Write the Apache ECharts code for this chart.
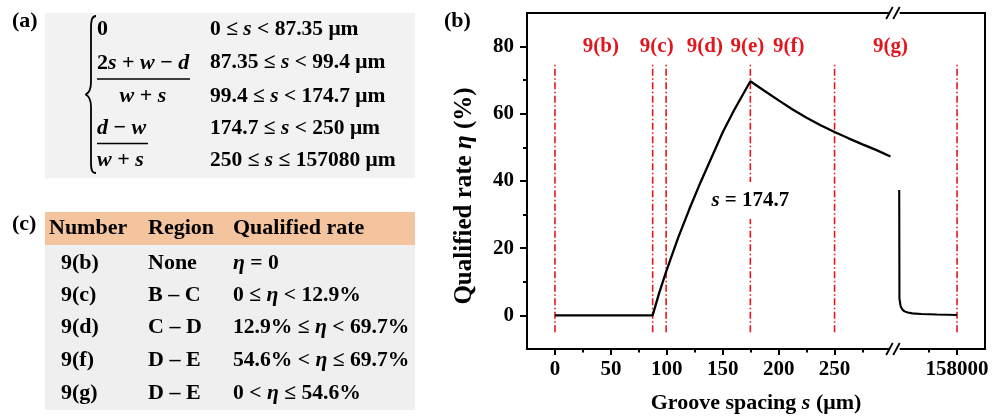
<!DOCTYPE html>
<html>
<head>
<meta charset="utf-8">
<script src="https://cdn.jsdelivr.net/npm/echarts@6/dist/echarts.min.js"></script>
<style>
  html, body { margin: 0; padding: 0; background: #fff; }
  #main { width: 999px; height: 419px; }
</style>
</head>
<body>
<div id="main"></div>
<script>
// 数据
var curveLeftS = [0, 87.35, 93, 99.4, 110, 120, 130, 140, 150, 160, 174.7, 187.5, 200, 212.5, 225, 237.5, 250, 262.5, 275, 287.5, 300];
var curveLeftEta = [0, 0, 6.5, 13, 23, 31.5, 39.5, 47, 54.5, 61, 69.7, 66.8, 64, 61.3, 58.8, 56.6, 54.6, 52.7, 50.9, 49.2, 47.3];
var curveRightS = [157948.3, 157948.5, 157949.5, 157951, 157953, 157956, 157960, 157968, 157982, 158000];
var curveRightEta = [37.3, 5, 2.8, 1.8, 1.2, 0.85, 0.6, 0.42, 0.28, 0.12];
var boundaryS = [0, 87.35, 99.4, 174.7, 250, 158000];
var regionNames = ['9(b)', '9(c)', '9(d)', '9(e)', '9(f)', '9(g)'];
var regionNameS = [41, 91, 134, 172, 209, 300];
var xMajorTicks = [0, 50, 100, 150, 200, 250, 158000];
var xMinorTicks = [25, 75, 125, 175, 225, 275, 157975];
var yMajorTicks = [0, 20, 40, 60, 80];
var yMinorTicks = [10, 30, 50, 70];
var breakStart = 300, breakEnd = 157948;

var tableNumbers = ['9(b)', '9(c)', '9(d)', '9(f)', '9(g)'];
var tableRegions = ['None', 'B – C', 'C – D', 'D – E', 'D – E'];
var tableRates = ['{i|η}{n| = 0}', '{n|0 ≤ }{i|η}{n| < 12.9%}', '{n|12.9% ≤ }{i|η}{n| < 69.7%}',
  '{n|54.6% < }{i|η}{n| ≤ 69.7%}', '{n|0 < }{i|η}{n| ≤ 54.6%}'];

var FONT = '"Liberation Serif", "Times New Roman", serif';
var RED = '#e3161d';

var myChart = echarts.init(document.getElementById('main'));

function zip(a, b) {
  return a.map(function (v, i) { return [v, b[i]]; });
}
function richSet(size) {
  return {
    n: { fontSize: size, fontWeight: 'bold', fontFamily: FONT, fill: '#000', color: '#000' },
    i: { fontSize: size, fontWeight: 'bold', fontStyle: 'italic', fontFamily: FONT, fill: '#000', color: '#000' }
  };
}

var series = [];
boundaryS.forEach(function (s) {
  series.push({
    type: 'line', xAxisIndex: 0, yAxisIndex: 0, symbol: 'none', silent: true,
    data: [[s, -5], [s, 75]],
    lineStyle: { color: RED, width: 1.6, type: [7, 2.5, 1.5, 2.5] },
    z: 2
  });
});
series.push({
  type: 'line', symbol: 'none', data: zip(curveLeftS, curveLeftEta),
  lineStyle: { color: '#000', width: 2.3 }, z: 3
});
series.push({
  type: 'line', symbol: 'none', data: zip(curveRightS, curveRightEta),
  lineStyle: { color: '#000', width: 2.1 }, z: 3
});
series.push({
  type: 'scatter', symbolSize: 0, silent: true, z: 4,
  itemStyle: { opacity: 1 },
  data: regionNames.map(function (n, i) { return { name: n, value: [regionNameS[i], 80] }; }),
  label: {
    show: true, position: 'inside', formatter: '{b}', opacity: 1,
    color: RED, fontSize: 21, fontWeight: 'bold', fontFamily: FONT
  }
});
series.push({
  type: 'scatter', symbolSize: 0, silent: true, z: 5,
  itemStyle: { opacity: 1 },
  data: [{ value: [174.7, 34.2] }],
  label: {
    show: true, position: 'inside', formatter: '{i|s}{n| = 174.7}', opacity: 1,
    backgroundColor: '#fff', padding: [8, 2],
    rich: richSet(21)
  }
});

var option = {
  animation: false,
  grid: { left: 527, right: 14, top: 13, bottom: 70, show: true, borderColor: '#000', borderWidth: 2 },
  xAxis: [{
    type: 'value', min: -25, max: 158025,
    breaks: [{ start: breakStart, end: breakEnd, gap: 7.5 }],
    breakArea: { show: false },
    splitLine: { show: false },
    axisLine: { onZero: false, lineStyle: { color: '#000', width: 2 } },
    axisTick: { show: true, length: 6, customValues: xMajorTicks, lineStyle: { color: '#000', width: 2 } },
    axisLabel: {
      customValues: xMajorTicks, margin: 10, color: '#000',
      fontSize: 21, fontWeight: 'bold', fontFamily: FONT,
      formatter: function (v) { return String(v); }
    },
    name: '{n|Groove spacing }{i|s}{n| (μm)}', nameLocation: 'middle', nameGap: 43,
    nameTextStyle: { rich: richSet(22) }
  }, {
    type: 'value', min: -25, max: 158025, position: 'bottom',
    breaks: [{ start: breakStart, end: breakEnd, gap: 7.5 }],
    breakArea: { show: false },
    splitLine: { show: false },
    axisLine: { show: false, onZero: false },
    axisTick: { show: true, length: 3.5, customValues: xMinorTicks, lineStyle: { color: '#000', width: 2 } },
    axisLabel: { show: false }
  }],
  yAxis: [{
    type: 'value', min: -10, max: 90,
    splitLine: { show: false },
    axisLine: { onZero: false, lineStyle: { color: '#000', width: 2 } },
    axisTick: { show: true, length: 7, customValues: yMajorTicks, lineStyle: { color: '#000', width: 2 } },
    axisLabel: {
      customValues: yMajorTicks, margin: 13, color: '#000',
      fontSize: 21, fontWeight: 'bold', fontFamily: FONT
    },
    name: '{n|Qualified rate }{i|η}{n| (%)}', nameLocation: 'middle', nameGap: 50,
    nameTextStyle: { rich: richSet(25), padding: [0, 30, 0, 0] }
  }, {
    type: 'value', min: -10, max: 90, position: 'left',
    splitLine: { show: false },
    axisLine: { show: false, onZero: false },
    axisTick: { show: true, length: 4, customValues: yMinorTicks, lineStyle: { color: '#000', width: 2 } },
    axisLabel: { show: false }
  }],
  series: series
};

myChart.setOption(option);

// 面板 (a)(b)(c) 的标注和断轴符号
var g = [];
function txt(x, y, text, size, extra) {
  var el = {
    type: 'text', x: x, y: y, z: 10,
    style: {
      text: text, fill: '#000', fontSize: size, fontWeight: 'bold', fontFamily: FONT,
      verticalAlign: 'middle', align: 'left', rich: richSet(size)
    }
  };
  if (extra) { for (var k in extra) el.style[k] = extra[k]; }
  g.push(el);
}
function seg(x1, y1, x2, y2, w) {
  g.push({ type: 'line', z: 10, shape: { x1: x1, y1: y1, x2: x2, y2: y2 }, style: { stroke: '#000', lineWidth: w } });
}
function curve(x1, y1, c1x, c1y, c2x, c2y, x2, y2) {
  g.push({
    type: 'bezierCurve', z: 10,
    shape: { x1: x1, y1: y1, cpx1: c1x, cpy1: c1y, cpx2: c2x, cpy2: c2y, x2: x2, y2: y2 },
    style: { stroke: '#000', lineWidth: 1.8, fill: null }
  });
}

// (a)
txt(12, 21, '(a)', 22);
g.push({ type: 'rect', z: 1, shape: { x: 45, y: 13, width: 370, height: 165 }, style: { fill: '#f2f2f2' } });
// 大括号
curve(96, 16, 92, 16, 91, 20, 91, 29);
seg(91, 29, 91, 82, 1.8);
curve(91, 82, 91, 90, 89, 93, 85.5, 94.5);
curve(85.5, 94.5, 89, 96, 91, 99, 91, 107);
seg(91, 107, 91, 163, 1.8);
curve(91, 163, 91, 170, 92, 173, 96, 173);
txt(97, 29, '{n|0}', 22);
txt(97, 63, '{n|2}{i|s}{n| + }{i|w}{n| − }{i|d}', 22);
seg(97, 79, 190, 79, 1.6);
txt(143, 96, '{i|w}{n| + }{i|s}', 22, { align: 'center' });
txt(97, 128, '{i|d}{n| − }{i|w}', 22);
seg(97, 143.5, 148, 143.5, 1.6);
txt(97, 160, '{i|w}{n| + }{i|s}', 22);
txt(210, 29, '{n|0 ≤ }{i|s}{n| < 87.35 μm}', 21.5);
txt(210, 62, '{n|87.35 ≤ }{i|s}{n| < 99.4 μm}', 21.5);
txt(210, 96, '{n|99.4 ≤ }{i|s}{n| < 174.7 μm}', 21.5);
txt(210, 128, '{n|174.7 ≤ }{i|s}{n| < 250 μm}', 21.5);
txt(210, 160, '{n|250 ≤ }{i|s}{n| ≤ 157080 μm}', 21.5);

// (c)
txt(12, 224, '(c)', 22);
g.push({ type: 'rect', z: 1, shape: { x: 45, y: 212, width: 370, height: 33 }, style: { fill: '#f4c49f' } });
g.push({ type: 'rect', z: 1, shape: { x: 45, y: 245, width: 370, height: 165 }, style: { fill: '#efefef' } });
txt(49, 228, '{n|Number}', 22);
txt(148, 228, '{n|Region}', 22);
txt(233, 228, '{n|Qualified rate}', 22);
var rowY = [263, 295, 327, 360, 393];
tableNumbers.forEach(function (n, i) {
  txt(61, rowY[i], '{n|' + n + '}', 22);
  txt(148, rowY[i], '{n|' + tableRegions[i] + '}', 22);
  txt(233, rowY[i], tableRates[i], 21.6);
});

// (b)
txt(444, 21, '(b)', 22);

// 断轴符号
var xa = myChart.convertToPixel({ xAxisIndex: 0 }, breakStart);
var xb = myChart.convertToPixel({ xAxisIndex: 0 }, breakEnd);
var cx = (xa + xb) / 2;
var yTop = myChart.convertToPixel({ yAxisIndex: 0 }, 90);
var yBot = myChart.convertToPixel({ yAxisIndex: 0 }, -10);
[yTop, yBot].forEach(function (yy) {
  g.push({ type: 'rect', z: 20, shape: { x: cx - 5, y: yy - 3, width: 10, height: 6 }, style: { fill: '#fff' } });
  g.push({ type: 'line', z: 21, shape: { x1: cx - 8.5, y1: yy + 6, x2: cx - 2, y2: yy - 6 }, style: { stroke: '#000', lineWidth: 1.8 } });
  g.push({ type: 'line', z: 21, shape: { x1: cx - 1.5, y1: yy + 6, x2: cx + 5, y2: yy - 6 }, style: { stroke: '#000', lineWidth: 1.8 } });
});

myChart.setOption({ graphic: g });
</script>
</body>
</html>
